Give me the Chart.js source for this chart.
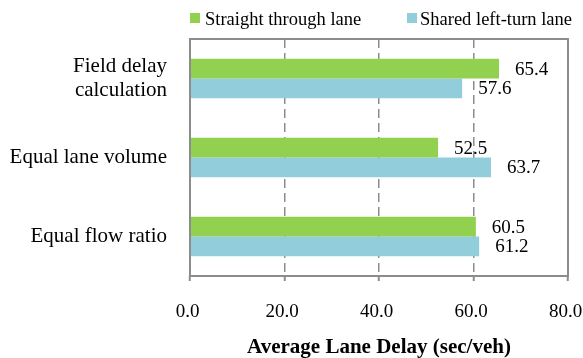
<!DOCTYPE html>
<html>
<head>
<meta charset="utf-8">
<script src="https://cdn.jsdelivr.net/npm/chart.js@4/dist/chart.umd.min.js"></script>
<style>
  html, body { margin: 0; padding: 0; background: #fff; }
  #wrap { width: 583px; height: 358px; }
</style>
</head>
<body>
<div id="wrap"><canvas id="delay"></canvas></div>
<script>
/* Data */
var categories = [["Field delay", "calculation"], "Equal lane volume", "Equal flow ratio"];
var seriesNames = ["Straight through lane", "Shared left-turn lane"];
var straightThrough = [65.4, 52.5, 60.5];
var sharedLeftTurn = [57.6, 63.7, 61.2];
var xTicks = [0, 20, 40, 60, 80];

var serif = "'Liberation Serif', 'Times New Roman', serif";
var green = "#92D050";
var blue = "#92CDDC";
var axisGray = "#8c8c8c";

/* value labels to the right of each bar */
var valueLabels = {
	id: "valueLabels",
	afterDatasetsDraw: function(chart) {
		var ctx = chart.ctx;
		ctx.save();
		ctx.fillStyle = "#000";
		ctx.font = "19px " + serif;
		ctx.textAlign = "left";
		ctx.textBaseline = "middle";
		chart.data.datasets.forEach(function(ds, i) {
			chart.getDatasetMeta(i).data.forEach(function(bar, j) {
				ctx.fillText(ds.data[j].toFixed(1), bar.x + 16, bar.y + 1);
			});
		});
		ctx.restore();
	}
};

/* plot area frame */
var plotFrame = {
	id: "plotFrame",
	afterDatasetsDraw: function(chart) {
		var a = chart.chartArea;
		var ctx = chart.ctx;
		ctx.save();
		ctx.strokeStyle = axisGray;
		ctx.lineWidth = 2;
		ctx.setLineDash([]);
		ctx.strokeRect(a.left, a.top, a.right - a.left, a.bottom - a.top);
		ctx.restore();
	}
};

/* legend drawn above the plot */
var topLegend = {
	id: "topLegend",
	afterDraw: function(chart) {
		var ctx = chart.ctx;
		var boxX = [190, 407];
		ctx.save();
		ctx.font = "18.5px " + serif;
		ctx.textAlign = "left";
		ctx.textBaseline = "alphabetic";
		chart.data.datasets.forEach(function(ds, i) {
			ctx.fillStyle = ds.backgroundColor;
			ctx.fillRect(boxX[i], 13, 10, 10);
			ctx.fillStyle = "#000";
			ctx.fillText(ds.label, boxX[i] + (i === 0 ? 15 : 13), 25);
		});
		ctx.restore();
	}
};

var ctxDelay = document.getElementById("delay");

var delayChart = new Chart(ctxDelay, {
	type: "bar",
	data: {
		labels: categories,
		datasets: [
			{
				label: seriesNames[0],
				data: straightThrough,
				backgroundColor: green,
				borderWidth: 0,
			},
			{
				label: seriesNames[1],
				data: sharedLeftTurn,
				backgroundColor: blue,
				borderWidth: 0,
			},
		],
	},
	options: {
		indexAxis: "y",
		responsive: true,
		maintainAspectRatio: false,
		animation: false,
		layout: { padding: { top: 39, right: 0, bottom: 0, left: 0 } },
		datasets: {
			bar: { categoryPercentage: 0.5, barPercentage: 1.0 },
		},
		plugins: {
			legend: { display: false },
			tooltip: { enabled: false },
		},
		scales: {
			x: {
				min: 0,
				max: 80,
				afterBuildTicks: function(scale) {
					scale.ticks = xTicks.map(function(v) { return { value: v }; });
				},
				afterFit: function(scale) {
					scale.height = 82;
					scale.paddingRight = 15;
				},
				ticks: {
					color: "#000",
					font: { family: serif, size: 19 },
					padding: 20,
					labelOffset: -2.5,
					maxRotation: 0,
					callback: function(v) { return Number(v).toFixed(1); },
				},
				grid: {
					color: axisGray,
					lineWidth: 1.5,
					tickLength: 5,
					tickWidth: 2,
					tickColor: axisGray,
				},
				border: { display: false, dash: [9, 5] },
				title: {
					display: true,
					text: "Average Lane Delay (sec/veh)",
					color: "#000",
					font: { family: serif, size: 21, weight: "bold" },
					padding: { top: 0, bottom: -2 },
				},
			},
			y: {
				afterFit: function(scale) { scale.width = 190; },
				ticks: {
					color: "#000",
					font: { family: serif, size: 21, lineHeight: 1.15 },
					padding: 23,
				},
				grid: { display: false, drawTicks: false },
				border: { display: false },
			},
		},
	},
	plugins: [valueLabels, plotFrame, topLegend],
});
</script>
</body>
</html>
